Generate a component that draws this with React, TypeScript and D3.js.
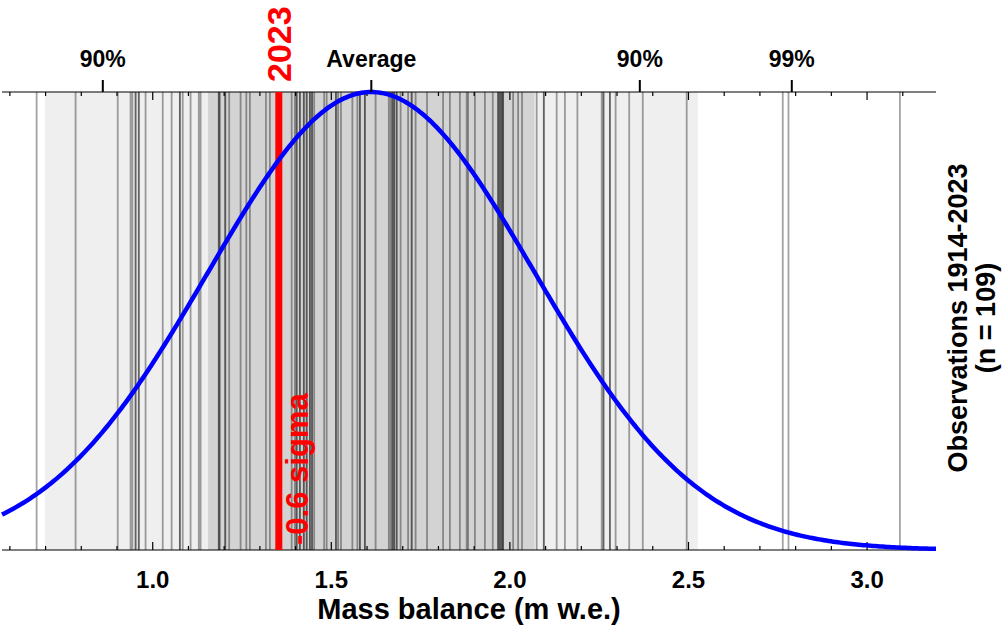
import React from "react";
import * as d3 from "d3";

const observations: number[] = [
  0.675, 0.784, 0.902, 0.938, 0.943, 0.952, 0.961, 0.98, 1.028, 1.053, 1.076, 1.084, 1.106,
  1.129, 1.134, 1.185, 1.188, 1.203, 1.214, 1.246, 1.262, 1.272, 1.317, 1.328, 1.353, 1.389,
  1.398, 1.403, 1.412, 1.423, 1.431, 1.44, 1.446, 1.452, 1.48, 1.487, 1.513, 1.519, 1.527,
  1.559, 1.573, 1.58, 1.594, 1.624, 1.661, 1.666, 1.671, 1.676, 1.683, 1.694, 1.715, 1.725,
  1.736, 1.768, 1.813, 1.832, 1.86, 1.879, 1.883, 1.902, 1.93, 1.952, 1.967, 1.972, 1.977,
  1.981, 2.009, 2.023, 2.034, 2.075, 2.095, 2.131, 2.154, 2.189, 2.257, 2.262, 2.28, 2.296,
  2.334, 2.372, 2.495, 2.764, 2.78, 3.092,
  // overlapping years (darker lines)
  0.952, 0.961, 1.185, 1.203, 1.403, 1.412, 1.423, 1.431, 1.44, 1.446, 1.513, 1.58, 1.594,
  1.671, 1.676, 1.683, 1.725, 1.967, 1.972, 1.977, 1.981, 2.262, 2.28, 2.095, 1.076,
];

const currentYear = "2023";
const currentValue = 1.353;
const mean = 1.612;
const sd = 0.457;

const xTickLabels = ["1.0", "1.5", "2.0", "2.5", "3.0"];
const xTickValues = [1.0, 1.5, 2.0, 2.5, 3.0];
const minorTickValues = [0.6, 0.7, 0.8, 0.9, 1.0, 1.1, 1.2, 1.3, 1.4, 1.5, 1.6, 1.7, 1.8, 1.9, 2.0, 2.1, 2.2, 2.3, 2.4, 2.5, 2.6, 2.7, 2.8, 2.9, 3.0, 3.1];

const topMarkerLabels = ["90%", "Average", "90%", "99%"];
const topMarkerZ = [-1.645, 0, 1.645, 2.576];

const FONT = "'Liberation Sans', Arial, Helvetica, sans-serif";

export default function App() {
  const W = 1003;
  const H = 627;
  const left = 2;
  const right = 936;
  const top = 92;
  const bottom = 550;

  const x = d3.scaleLinear().domain([0.578, 3.193]).range([left, right]);
  const pdf = (v: number) => Math.exp(-0.5 * ((v - mean) / sd) ** 2);
  const y = d3.scaleLinear().domain([0, 1]).range([bottom, top]);

  const [d0, d1] = x.domain();
  const curvePts = d3.range(0, 401).map((i) => d0 + ((d1 - d0) * i) / 400);
  const line = d3
    .line<number>()
    .x((v) => x(v))
    .y((v) => y(pdf(v)))
    .curve(d3.curveLinear);

  const redX = x(currentValue);
  const sigma = (currentValue - mean) / sd;

  return (
    <svg
      width={W}
      height={H}
      style={{ position: "absolute", left: 0, top: 0, display: "block", background: "#fff" }}
      fontFamily={FONT}
    >
      {/* bands */}
      <rect x={x(mean - 2 * sd)} y={top} width={x(mean + 2 * sd) - x(mean - 2 * sd)} height={bottom - top} fill="#efefef" />
      <rect x={x(mean - sd)} y={top} width={x(mean + sd) - x(mean - sd)} height={bottom - top} fill="#d3d3d3" />

      {/* observations */}
      {observations.map((v, i) => (
        <line key={i} x1={x(v)} x2={x(v)} y1={top} y2={bottom} stroke="#000" strokeOpacity={0.36} strokeWidth={1.8} />
      ))}

      {/* axes lines */}
      <line x1={left} x2={right} y1={top} y2={top} stroke="#000" strokeWidth={1.2} />
      <line x1={left} x2={right} y1={bottom} y2={bottom} stroke="#000" strokeWidth={1.2} />
      {minorTickValues.map((v, i) => {
        const major = xTickValues.some((t) => Math.abs(t - v) < 1e-6);
        const len = major ? 8 : 4;
        return (
          <g key={i}>
            <line x1={x(v)} x2={x(v)} y1={bottom} y2={bottom - len} stroke="#000" strokeWidth={1.2} />
            <line x1={x(v)} x2={x(v)} y1={top} y2={top + len} stroke="#000" strokeWidth={1.2} />
          </g>
        );
      })}

      {/* red current year line */}
      <line x1={redX} x2={redX} y1={top} y2={bottom} stroke="#ff0000" strokeWidth={7} />

      {/* normal curve */}
      <path d={line(curvePts) || ""} fill="none" stroke="#0000ff" strokeWidth={4.5} />

      {/* top markers */}
      {topMarkerZ.map((z, i) => {
        const px = x(mean + z * sd);
        return (
          <g key={i}>
            <line x1={px} x2={px} y1={top} y2={top - 12} stroke="#000" strokeWidth={2} />
            <text x={px} y={67} textAnchor="middle" fontWeight="bold" fontSize={23}>
              {topMarkerLabels[i]}
            </text>
          </g>
        );
      })}

      {/* current year label */}
      <text
        transform={`translate(${redX + 12},82) rotate(-90)`}
        fill="#ff0000"
        fontWeight="bold"
        fontSize={34}
      >
        {currentYear}
      </text>
      <text
        transform={`translate(${redX + 29},545) rotate(-90)`}
        fill="#ff0000"
        fontWeight="bold"
        fontSize={31}
      >
        {`${sigma.toFixed(1)} sigma`}
      </text>

      {/* bottom tick labels */}
      {xTickValues.map((v, i) => (
        <text key={i} x={x(v)} y={588} textAnchor="middle" fontWeight="bold" fontSize={24}>
          {xTickLabels[i]}
        </text>
      ))}
      <text x={469} y={619} textAnchor="middle" fontWeight="bold" fontSize={29}>
        Mass balance (m w.e.)
      </text>

      {/* right label */}
      <text transform="translate(967,318) rotate(-90)" textAnchor="middle" fontWeight="bold" fontSize={27}>
        Observations 1914-2023
      </text>
      <text transform="translate(995,318) rotate(-90)" textAnchor="middle" fontWeight="bold" fontSize={27}>
        (n = 109)
      </text>
    </svg>
  );
}
